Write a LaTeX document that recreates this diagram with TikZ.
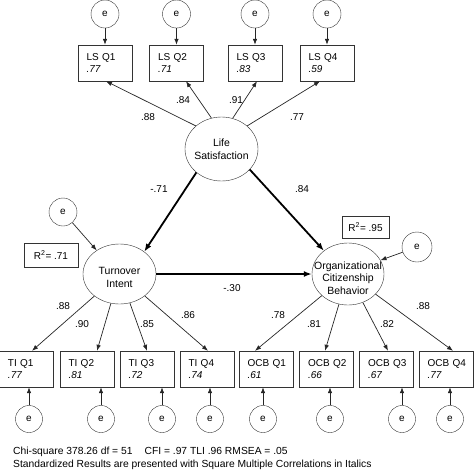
\documentclass[tikz,border=0pt]{standalone}
\usepackage{fontspec}
\setmainfont{Liberation Sans}
\usetikzlibrary{shapes.geometric,arrows.meta}

\begin{document}
\begin{tikzpicture}[x=1pt,y=-1pt,
	every node/.style={font=\fontsize{10}{12}\selectfont},
	err/.style={draw=black!80,circle,minimum size=28pt,inner sep=0pt},
	item/.style={draw=black!80,rectangle,minimum width=54pt,minimum height=36pt,text width=46pt,align=left,inner sep=0pt,execute at begin node={\leftskip=4.5pt\relax}},
	latent/.style={draw=black!80,ellipse,inner sep=0pt},
	lattext/.style={align=center,inner sep=0pt,font=\fontsize{10.5}{12.5}\selectfont},
	rsq/.style={draw=black!80,rectangle,inner sep=0pt},
	path/.style={draw=black!85,-{Latex[length=6pt,width=4.5pt]},line width=0.7pt},
	bigpath/.style={draw=black,-{Latex[length=8pt,width=6pt]},line width=1.8pt}]
				\useasboundingbox (0,0) rectangle (474,472);

				\node[err] (els1) at (105,14) {e};
				\node[err] (els2) at (176.5,14) {e};
				\node[err] (els3) at (255,14) {e};
				\node[err] (els4) at (327,14) {e};

				\node[item] (ls1) at (105,63) {LS Q1\\\textit{.77}};
				\node[item] (ls2) at (176.5,63) {LS Q2\\\textit{.71}};
				\node[item] (ls3) at (255,63) {LS Q3\\\textit{.83}};
				\node[item] (ls4) at (327,63) {LS Q4\\\textit{.59}};

				\node[latent,minimum width=73pt,minimum height=64pt] (lsat) at (221.5,149) {};
				\node[lattext] (lsatl) at (221.5,149) {Life\\Satisfaction};
				\node[latent,minimum width=73pt,minimum height=60pt] (ti) at (119.5,274) {};
				\node[lattext] (til) at (119.5,277.5) {Turnover\\Intent};
				\node[latent,minimum width=72pt,minimum height=62pt] (ocb) at (348,274) {};
				\node[lattext] (ocbl) at (348,278) {Organizational\\Citizenship\\Behavior};

				\node[rsq,minimum width=54pt,minimum height=24pt] (r2ti) at (51,255) {R\textsuperscript{2}= .71};
				\node[rsq,minimum width=47pt,minimum height=22pt] (r2ocb) at (365.5,227) {R\textsuperscript{2}= .95};

				\node[err] (eti) at (63,212) {e};
				\node[err,minimum size=30pt] (eocb) at (417,247) {e};

				\node[item] (ti1) at (26.5,369) {TI Q1\\\textit{.77}};
				\node[item] (ti2) at (87,369) {TI Q2\\\textit{.81}};
				\node[item] (ti3) at (147,369) {TI Q3\\\textit{.72}};
				\node[item] (ti4) at (207,369) {TI Q4\\\textit{.74}};
				\node[item] (ocb1) at (266,369) {OCB Q1\\\textit{.61}};
				\node[item] (ocb2) at (326.5,369) {OCB Q2\\\textit{.66}};
				\node[item] (ocb3) at (386.5,369) {OCB Q3\\\textit{.67}};
				\node[item] (ocb4) at (446,369) {OCB Q4\\\textit{.77}};

				\node[err,minimum size=27pt] (eti1) at (29,419) {e};
				\node[err,minimum size=27pt] (eti2) at (101,419) {e};
				\node[err,minimum size=27pt] (eti3) at (162,419) {e};
				\node[err,minimum size=27pt] (eti4) at (210,419) {e};
				\node[err,minimum size=27pt] (eocb1) at (263,419) {e};
				\node[err,minimum size=27pt] (eocb2) at (330,419) {e};
				\node[err,minimum size=27pt] (eocb3) at (402,419) {e};
				\node[err,minimum size=27pt] (eocb4) at (450,419) {e};

				\draw[path] (els1) -- (ls1);
				\draw[path] (els2) -- (ls2);
				\draw[path] (els3) -- (ls3);
				\draw[path] (els4) -- (ls4);

				\draw[path] (lsat.138) -- ([xshift=1pt]ls1.south);
				\draw[path] (lsat.108) -- ([xshift=9.5pt]ls2.south);
				\draw[path] (lsat.70) -- ([xshift=2pt]ls3.south);
				\draw[path] (lsat.42) -- ([xshift=-7pt]ls4.south);

				\draw[bigpath] (lsat.223) -- (ti.42);
				\draw[bigpath] (lsat.324) -- (ocb.136);
				\draw[bigpath] (ti) -- (ocb);

				\draw[path] (eti) -- (ti.134);
				\draw[path] (eocb) -- (ocb.23);

				\draw[path] (ti) -- ([xshift=5.5pt]ti1.north);
				\draw[path] (ti) -- ([xshift=10pt]ti2.north);
				\draw[path] (ti) -- (ti3.north);
				\draw[path] (ti) -- ([xshift=1pt]ti4.north);
				\draw[path] (ocb) -- ([xshift=-11pt]ocb1.north);
				\draw[path] (ocb) -- ([xshift=-1.5pt]ocb2.north);
				\draw[path] (ocb) -- ([xshift=1.5pt]ocb3.north);
				\draw[path] (ocb) -- ([xshift=7pt]ocb4.north);

				\draw[path] (eti1) -- (eti1 |- ti1.south);
				\draw[path] (eti2) -- (eti2 |- ti2.south);
				\draw[path] (eti3) -- (eti3 |- ti3.south);
				\draw[path] (eti4) -- (eti4 |- ti4.south);
				\draw[path] (eocb1) -- (eocb1 |- ocb1.south);
				\draw[path] (eocb2) -- (eocb2 |- ocb2.south);
				\draw[path] (eocb3) -- (eocb3 |- ocb3.south);
				\draw[path] (eocb4) -- (eocb4 |- ocb4.south);

				\node (wls1) at (148,117) {.88};
				\node (wls2) at (183,100) {.84};
				\node (wls3) at (236,100) {.91};
				\node (wls4) at (297,117) {.77};
				\node (wlsti) at (159,189) {-.71};
				\node (wlsocb) at (302,189) {.84};
				\node (wtiocb) at (232,288) {-.30};
				\node (wti1) at (63,306) {.88};
				\node (wti2) at (82,324) {.90};
				\node (wti3) at (147,324) {.85};
				\node (wti4) at (188,315) {.86};
				\node (wocb1) at (278,315) {.78};
				\node (wocb2) at (314,324) {.81};
				\node (wocb3) at (387,324) {.82};
				\node (wocb4) at (423,306) {.88};

				\node[anchor=west,inner sep=0pt,font=\fontsize{10.3}{12}\selectfont] (fitline) at (13,452) {Chi-square 378.26 df = 51\hspace*{12pt}CFI = .97 TLI .96 RMSEA = .05};
				\node[anchor=west,inner sep=0pt,font=\fontsize{10.3}{12}\selectfont] (noteline) at (13,465) {Standardized Results are presented with Square Multiple Correlations in Italics};
			\end{tikzpicture}
\end{document}
